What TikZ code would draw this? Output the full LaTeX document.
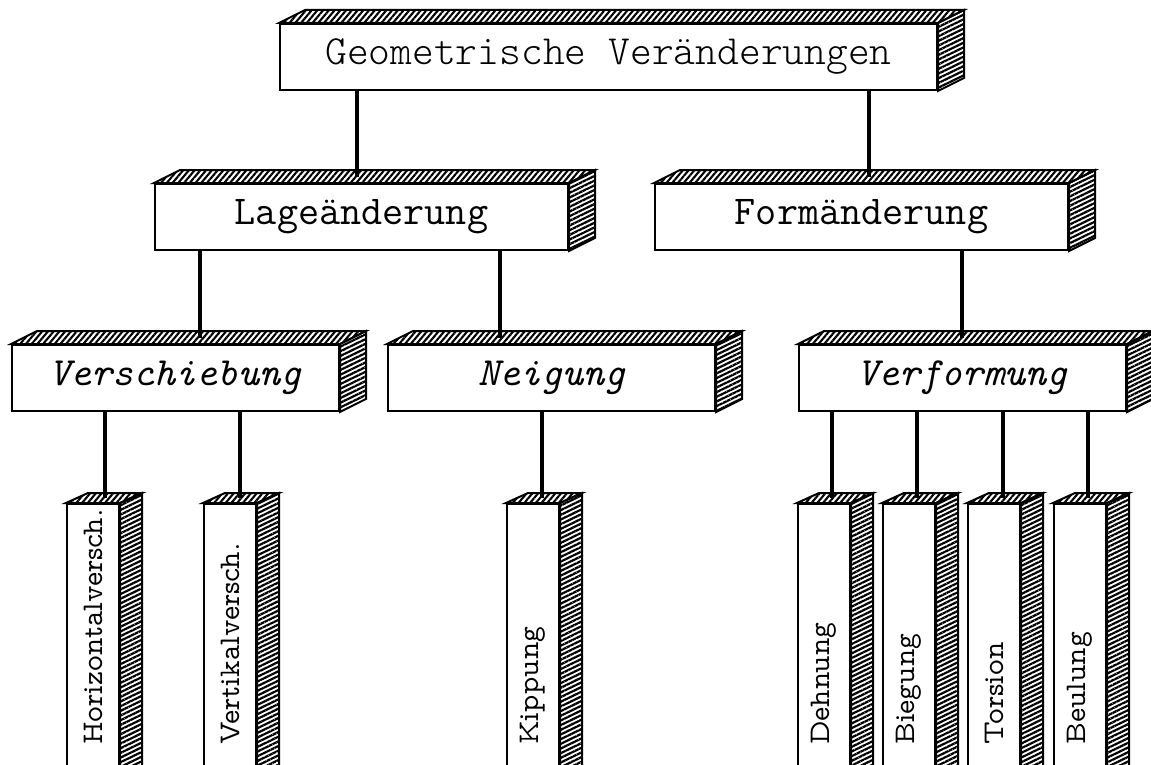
\documentclass[tikz,border=0pt]{standalone}
\usetikzlibrary{patterns.meta}

% fonts
\newcommand\titlefont{\fontfamily{lmtt}\fontseries{l}\fontshape{n}\fontsize{41.5}{41.5}\selectfont}
\newcommand\midfont{\fontfamily{lmtt}\fontseries{m}\fontshape{n}\fontsize{41}{41}\selectfont}
\newcommand\itfont{\fontfamily{lmtt}\fontseries{m}\fontshape{it}\fontsize{40}{40}\selectfont}
\font\leafprim="[lmmonoprop10-regular.otf]" at 30pt
\newcommand\leaffont{\leafprim}

\tikzset{
  front/.style={draw, line width=2pt, fill=white, inner sep=0pt, anchor=north west, minimum height=66pt},
  wide/.style={front, minimum width=327pt},
  tall/.style={front, minimum width=52pt, minimum height=320pt},
  topface/.style={line width=2pt, line join=miter, pattern={Lines[angle=50,distance=4.4pt,line width=2.1pt]}},
  sideface/.style={line width=2pt, line join=miter, pattern={Lines[angle=26,distance=4.2pt,line width=2.2pt]}},
  conn/.style={line width=4.5pt},
  leaf/.style={rotate=90, anchor=west, inner sep=0pt, font=\leaffont},
}

% hatched top and right faces of a block: node, depth dx, depth dy (pt)
\newcommand\blockfaces[3]{%
  \draw[topface] (#1.north west) -- ++(#2pt,#3pt) -- ([shift={(#2pt,#3pt)}]#1.north east) -- (#1.north east) -- cycle;
  \draw[sideface] (#1.north east) -- ++(#2pt,#3pt) -- ([shift={(#2pt,#3pt)}]#1.south east) -- (#1.south east) -- cycle;
}

\begin{document}
\begin{tikzpicture}[x=1pt, y=-1pt]
\useasboundingbox (0,0) rectangle (1151,765);
\clip (0,0) rectangle (1151,765);

% level 1
\node[front, minimum width=657pt, font=\titlefont] (geo) at (279,23) {Geometrische Veränderungen};
% level 2
\node[front, minimum width=413pt, font=\midfont] (lage) at (154,183) {Lageänderung};
\node[front, minimum width=413pt, font=\midfont] (form) at (654,183) {Formänderung};
% level 3
\node[wide, font=\itfont] (versch) at (11,344) {Verschiebung};
\node[wide, font=\itfont] (neig) at (387,344) {Neigung};
\node[wide, font=\itfont] (verf) at (798,344) {Verformung};
% level 4
\node[tall] (horiz) at (66,503) {};
\node[tall] (vertik) at (203,503) {};
\node[tall] (kipp) at (506,503) {};
\node[tall] (dehn) at (797,503) {};
\node[tall] (bieg) at (882,503) {};
\node[tall] (tors) at (967,503) {};
\node[tall] (beul) at (1053,503) {};

\foreach \b in {geo,lage,form,versch,neig,verf}{\blockfaces{\b}{26}{13}}
\foreach \b in {horiz,vertik,kipp,dehn,bieg,tors,beul}{\blockfaces{\b}{22}{10}}

% labels of the upright blocks
\node[leaf] (l-horiz) at (93,745) {Horizontalversch.};
\node[leaf] (l-vertik) at (230,745) {Vertikalversch.};
\node[leaf] (l-kipp) at (533,745) {Kippung};
\node[leaf] (l-dehn) at (824,745) {Dehnung};
\node[leaf] (l-bieg) at (909,745) {Biegung};
\node[leaf] (l-tors) at (994,745) {Torsion};
\node[leaf] (l-beul) at (1080,745) {Beulung};

% connector end points on the top faces
\coordinate (e-lage) at (357,177);
\coordinate (e-form) at (869,177);
\coordinate (e-versch) at (200,338);
\coordinate (e-neig) at (500,338);
\coordinate (e-verf) at (962,338);
\coordinate (e-horiz) at (105,498);
\coordinate (e-vertik) at (240,498);
\coordinate (e-kipp) at (542,498);
\coordinate (e-dehn) at (832,498);
\coordinate (e-bieg) at (917,498);
\coordinate (e-tors) at (1003,498);
\coordinate (e-beul) at (1088,498);

\draw[conn] (geo.south -| e-lage) -- (e-lage);
\draw[conn] (geo.south -| e-form) -- (e-form);
\draw[conn] (lage.south -| e-versch) -- (e-versch);
\draw[conn] (lage.south -| e-neig) -- (e-neig);
\draw[conn] (form.south -| e-verf) -- (e-verf);
\draw[conn] (versch.south -| e-horiz) -- (e-horiz);
\draw[conn] (versch.south -| e-vertik) -- (e-vertik);
\draw[conn] (neig.south -| e-kipp) -- (e-kipp);
\draw[conn] (verf.south -| e-dehn) -- (e-dehn);
\draw[conn] (verf.south -| e-bieg) -- (e-bieg);
\draw[conn] (verf.south -| e-tors) -- (e-tors);
\draw[conn] (verf.south -| e-beul) -- (e-beul);
\end{tikzpicture}
\end{document}
